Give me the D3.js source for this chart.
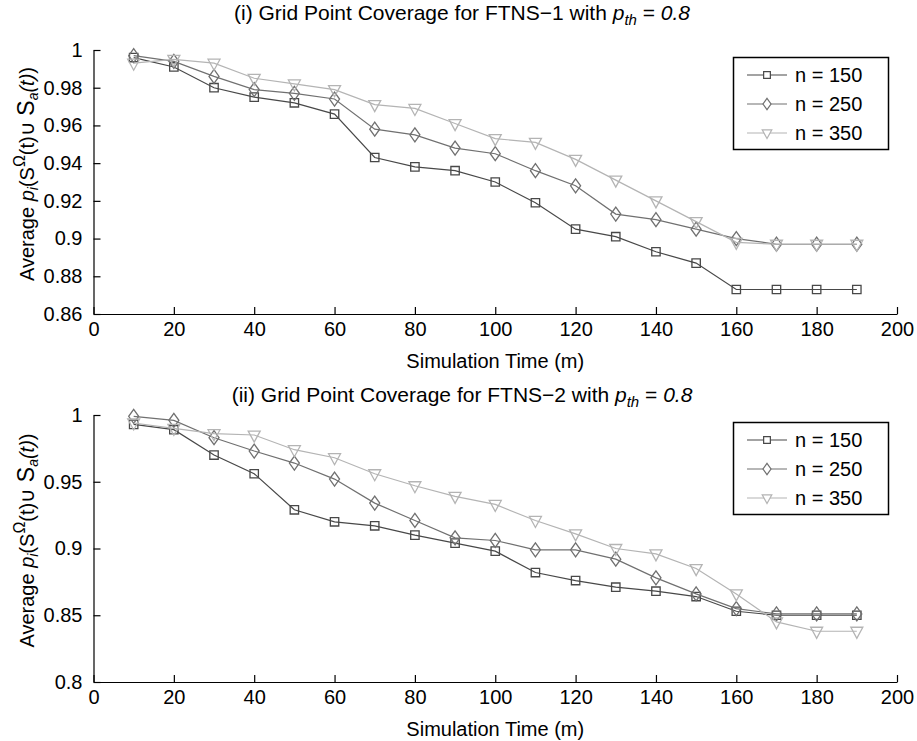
<!DOCTYPE html>
<html>
<head>
<meta charset="utf-8">
<script src="https://cdnjs.cloudflare.com/ajax/libs/d3/7.8.5/d3.min.js"></script>
<style>
  body { margin: 0; background: #fff; }
  text { font-family: "Liberation Sans", Arial, sans-serif; fill: #000; }
</style>
</head>
<body>
<div class="chart"></div>
<script>
// simulation time (m)
var times = [10, 20, 30, 40, 50, 60, 70, 80, 90, 100, 110, 120, 130, 140, 150, 160, 170, 180, 190];
var seriesNames = ['n = 150', 'n = 250', 'n = 350'];

// (i) FTNS-1
var ftns1N150 = [0.996, 0.991, 0.980, 0.975, 0.972, 0.966, 0.943, 0.938, 0.936, 0.930, 0.919, 0.905, 0.901, 0.893, 0.887, 0.873, 0.873, 0.873, 0.873];
var ftns1N250 = [0.997, 0.994, 0.986, 0.979, 0.977, 0.974, 0.958, 0.955, 0.948, 0.945, 0.936, 0.928, 0.913, 0.910, 0.905, 0.900, 0.897, 0.897, 0.897];
var ftns1N350 = [0.993, 0.995, 0.993, 0.985, 0.982, 0.979, 0.971, 0.969, 0.961, 0.953, 0.951, 0.942, 0.931, 0.920, 0.909, 0.898, 0.897, 0.897, 0.897];

// (ii) FTNS-2
var ftns2N150 = [0.993, 0.989, 0.970, 0.956, 0.929, 0.920, 0.917, 0.910, 0.904, 0.898, 0.882, 0.876, 0.871, 0.868, 0.864, 0.853, 0.850, 0.850, 0.850];
var ftns2N250 = [0.999, 0.996, 0.983, 0.973, 0.964, 0.952, 0.934, 0.921, 0.908, 0.906, 0.899, 0.899, 0.892, 0.878, 0.866, 0.855, 0.851, 0.851, 0.851];
var ftns2N350 = [0.994, 0.990, 0.986, 0.985, 0.974, 0.968, 0.956, 0.947, 0.939, 0.933, 0.921, 0.911, 0.900, 0.896, 0.885, 0.866, 0.845, 0.838, 0.838];

var xTicks = [0, 20, 40, 60, 80, 100, 120, 140, 160, 180, 200];
var yTicks1 = [0.86, 0.88, 0.9, 0.92, 0.94, 0.96, 0.98, 1];
var yTicks2 = [0.8, 0.85, 0.9, 0.95, 1];

var colors = ['#484848', '#707070', '#b4b4b4'];
var markers = ['square', 'diamond', 'triangle'];

var fullWidth = 917, fullHeight = 741;

var svg = d3.select('.chart')
  .append('svg')
  .attr('width', fullWidth)
  .attr('height', fullHeight);

var xScale = d3.scaleLinear().domain([0, 200]).range([93.5, 897]);

drawPanel({
  title: '(i) Grid Point Coverage for FTNS\u22121 with ',
  titleY: 20,
  top: 50, bottom: 314,
  yDomain: [0.86, 1], yTicks: yTicks1,
  series: [ftns1N150, ftns1N250, ftns1N350]
});

drawPanel({
  title: '(ii) Grid Point Coverage for FTNS\u22122 with ',
  titleY: 402,
  top: 415, bottom: 682,
  yDomain: [0.8, 1], yTicks: yTicks2,
  series: [ftns2N150, ftns2N250, ftns2N350]
});

function drawPanel(opt) {
  var yScale = d3.scaleLinear().domain(opt.yDomain).range([opt.bottom, opt.top]);
  var g = svg.append('g');

  // axes, ticks point inward
  g.append('g')
    .attr('transform', `translate(${xScale(0)},0)`)
    .call(d3.axisLeft(yScale).tickValues(opt.yTicks)
      .tickFormat(d => +d.toFixed(2))
      .tickSizeInner(-7).tickSizeOuter(0).tickPadding(11));

  g.append('g')
    .attr('transform', `translate(0,${opt.bottom})`)
    .call(d3.axisBottom(xScale).tickValues(xTicks)
      .tickFormat(d => d)
      .tickSizeInner(-7).tickSizeOuter(0).tickPadding(8));

  g.selectAll('.domain, .tick line').attr('stroke', '#000').attr('stroke-width', 1.2);
  g.selectAll('.tick text').style('font-size', '20px').attr('fill', '#000')
    .style('font-family', '"Liberation Sans", Arial, sans-serif');

  // lines + markers
  var line = d3.line()
    .x((d, i) => xScale(times[i]))
    .y(d => yScale(d));

  opt.series.forEach((values, k) => {
    g.append('path')
      .attr('d', line(values))
      .style('fill', 'none')
      .style('stroke', colors[k])
      .style('stroke-width', 1.2);

    g.selectAll('.mk' + k)
      .data(values)
      .enter()
      .append('path')
      .attr('class', 'mk' + k)
      .attr('transform', (d, i) => `translate(${xScale(times[i])},${yScale(d)})`)
      .attr('d', markerPath(markers[k], 1))
      .style('fill', 'none')
      .style('stroke', colors[k])
      .style('stroke-width', 1.3);
  });

  // title
  var t = g.append('text')
    .attr('x', 462)
    .attr('y', opt.titleY)
    .style('text-anchor', 'middle')
    .style('font-size', '21px');
  t.append('tspan').text(opt.title);
  t.append('tspan').style('font-style', 'italic').text('p');
  t.append('tspan').style('font-style', 'italic').style('font-size', '15px').attr('dy', 5).text('th');
  t.append('tspan').attr('dy', -5).text(' = ');
  t.append('tspan').style('font-style', 'italic').text('0.8');

  // x label
  g.append('text')
    .attr('x', (xScale(0) + xScale(200)) / 2)
    .attr('y', opt.bottom + 54)
    .style('text-anchor', 'middle')
    .style('font-size', '20px')
    .text('Simulation Time (m)');

  // y label
  var cy = (opt.top + opt.bottom) / 2;
  var yl = g.append('text')
    .attr('transform', `translate(34,${cy - 8}) rotate(-90)`)
    .style('text-anchor', 'middle')
    .style('font-size', '20px');
  yl.append('tspan').text('Average ');
  yl.append('tspan').style('font-style', 'italic').text('p');
  yl.append('tspan').style('font-style', 'italic').style('font-size', '14px').attr('dy', 4).text('i');
  yl.append('tspan').attr('dy', -4).text('(S');
  yl.append('tspan').style('font-size', '16px').attr('dy', -9).text('\u03A9');
  yl.append('tspan').attr('dy', 9).text('(t)\u222A ');
  yl.append('tspan').style('font-size', '23px').text('S');
  yl.append('tspan').style('font-style', 'italic').style('font-size', '14px').attr('dy', 4).text('a');
  yl.append('tspan').style('font-style', 'italic').attr('dy', -4).text('(t)');
  yl.append('tspan').text(')');

  drawLegend(g, opt.top + 7);
}

function drawLegend(g, y0) {
  var lg = g.append('g');
  lg.append('rect')
    .attr('x', 733.5)
    .attr('y', y0 + 0.5)
    .attr('width', 155)
    .attr('height', 92)
    .style('fill', '#fff')
    .style('stroke', '#000')
    .style('stroke-width', 1.5);

  seriesNames.forEach((name, k) => {
    var y = y0 + 18 + k * 29;
    lg.append('line')
      .attr('x1', 747).attr('x2', 787)
      .attr('y1', y).attr('y2', y)
      .style('stroke', colors[k])
      .style('stroke-width', 1.2);
    lg.append('path')
      .attr('transform', `translate(767,${y})`)
      .attr('d', markerPath(markers[k], 0.8))
      .style('fill', '#fff')
      .style('stroke', colors[k])
      .style('stroke-width', 1.2);
    lg.append('text')
      .attr('x', 795)
      .attr('y', y)
      .attr('dy', '0.36em')
      .style('font-size', '20px')
      .text(name);
  });
}

function markerPath(type, s) {
  if (type == 'square') {
    var r = 4.2 * s;
    return `M${-r},${-r}H${r}V${r}H${-r}Z`;
  }
  if (type == 'diamond') {
    var w = 5 * s, h = 7 * s;
    return `M0,${-h}L${w},0L0,${h}L${-w},0Z`;
  }
  var hw = 6 * s;
  return `M${-hw},${-4 * s}H${hw}L0,${7 * s}Z`;
}
</script>
</body>
</html>
